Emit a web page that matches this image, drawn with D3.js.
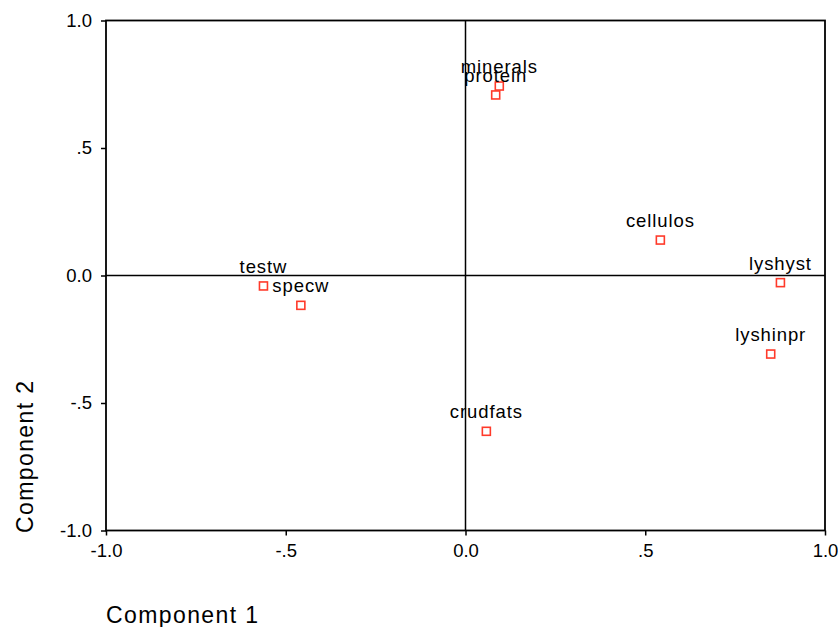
<!DOCTYPE html>
<html>
<head>
<meta charset="utf-8">
<script src="https://cdn.jsdelivr.net/npm/d3@7"></script>
<style>
  body { margin: 0; background: #fff; }
  svg { display: block; font-family: "Liberation Sans", Arial, sans-serif; }
</style>
</head>
<body>
<svg id="chart" width="838" height="627"></svg>
<script>
const variables = ["minerals", "protein", "testw", "specw", "cellulos", "lyshyst", "lyshinpr", "crudfats"];
const comp1 = [0.094, 0.084, -0.562, -0.458, 0.542, 0.876, 0.849, 0.058];
const comp2 = [0.743, 0.708, -0.041, -0.117, 0.139, -0.028, -0.308, -0.611];
const tickValues = [-1.0, -0.5, 0.0, 0.5, 1.0];
const tickLabels = ["-1.0", "-.5", "0.0", ".5", "1.0"];

(function () {
const svg = d3.select("#chart");
const mLeft = 106, mRight = 825, mTop = 20.5, mBottom = 530.5;
const x = d3.scaleLinear().domain([-1, 1]).range([mLeft, mRight]);
const y = d3.scaleLinear().domain([-1, 1]).range([mBottom, mTop]);
const fmt = v => tickLabels[tickValues.indexOf(v)];

// frame
svg.append("rect").attr("x", mLeft).attr("y", mTop)
  .attr("width", mRight - mLeft).attr("height", mBottom - mTop)
  .attr("fill", "none").attr("stroke", "#000").attr("stroke-width", 1.8);

// zero reference lines
svg.append("line").attr("x1", x(0)).attr("x2", x(0)).attr("y1", mTop).attr("y2", mBottom)
  .attr("stroke", "#000").attr("stroke-width", 1.5);
svg.append("line").attr("x1", mLeft).attr("x2", mRight).attr("y1", y(0)).attr("y2", y(0))
  .attr("stroke", "#000").attr("stroke-width", 1.5);

// axes
const xAxis = svg.append("g").attr("transform", `translate(0,${mBottom})`)
  .call(d3.axisBottom(x).tickValues(tickValues).tickFormat(fmt).tickSize(5).tickPadding(8));
const yAxis = svg.append("g").attr("transform", `translate(${mLeft},0)`)
  .call(d3.axisLeft(y).tickValues(tickValues).tickFormat(fmt).tickSize(5).tickPadding(9));
[xAxis, yAxis].forEach(g => {
  g.select(".domain").remove();
  g.selectAll(".tick line").attr("stroke", "#000").attr("stroke-width", 1.5);
  g.selectAll(".tick text").attr("fill", "#000").attr("font-size", 18.5)
    .attr("font-family", "Liberation Sans, Arial, sans-serif");
});

// axis titles
svg.append("text").attr("x", 106).attr("y", 623)
  .attr("font-size", 23).attr("letter-spacing", 1.4).attr("fill", "#000")
  .text("Component 1");
svg.append("text").attr("transform", `translate(33,533) rotate(-90)`)
  .attr("font-size", 23).attr("letter-spacing", 1.4).attr("fill", "#000")
  .text("Component 2");

// points
const data = variables.map((v, i) => ({ name: v, c1: comp1[i], c2: comp2[i] }));
const s = 8;
svg.append("g").selectAll("rect").data(data).join("rect")
  .attr("x", d => x(d.c1) - s / 2).attr("y", d => y(d.c2) - s / 2)
  .attr("width", s).attr("height", s)
  .attr("fill", "#fff").attr("stroke", "#ff3a2a").attr("stroke-width", 1.6);

svg.append("g").selectAll("text").data(data).join("text")
  .attr("x", d => x(d.c1)).attr("y", d => y(d.c2) - 13)
  .attr("text-anchor", "middle").attr("font-size", 18.5).attr("letter-spacing", 0.9)
  .attr("fill", "#000").text(d => d.name);
})();
</script>
</body>
</html>
